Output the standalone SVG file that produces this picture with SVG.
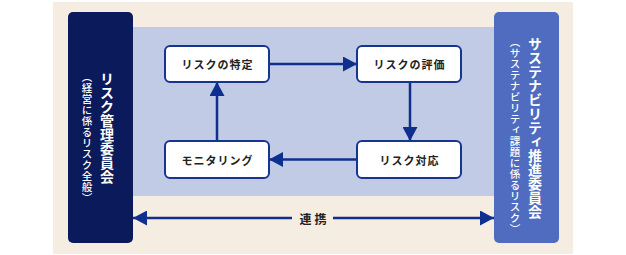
<svg xmlns="http://www.w3.org/2000/svg" width="626" height="255" viewBox="0 0 626 255">
<style>
.node rect{fill:#ffffff;stroke:#16358f;stroke-width:2}
.node text{font-family:"Noto Sans CJK JP","Noto Sans",sans-serif;font-weight:700;font-size:11px;fill:#222;text-anchor:middle;dominant-baseline:central;letter-spacing:1px}
.conn line{stroke:#0f2f8e;stroke-width:2.5}
.vt{font-family:"Noto Sans CJK JP","Noto Sans",sans-serif;fill:#ffffff;writing-mode:vertical-rl;text-orientation:mixed}
.big{font-size:14px;font-weight:700}
.small{font-size:10.5px;font-weight:500;letter-spacing:0.5px}
.lbl{font-family:"Noto Sans CJK JP","Noto Sans",sans-serif;font-weight:700;font-size:12px;fill:#222;text-anchor:middle;dominant-baseline:central;letter-spacing:3px}
</style>
<defs>
<marker id="ah" markerUnits="userSpaceOnUse" markerWidth="14" markerHeight="15" refX="14" refY="7.5" orient="auto">
<path d="M0,0 L14,7.5 L0,15 Z" fill="#0f2f8e"/>
</marker>
</defs>
<rect x="53" y="2" width="520" height="252" fill="#f5ede2"/>
<rect x="133" y="27" width="361" height="169" fill="#c2cbe5"/>
<g id="left-committee">
<rect x="68" y="12" width="65" height="231" rx="5" fill="#0b1a5b"/>
<text class="vt big" x="107" y="72">リスク管理委員会</text>
<text class="vt small" x="87" y="72">（経営に係るリスク全般）</text>
</g>
<g id="right-committee">
<rect x="494" y="12" width="65" height="231" rx="5" fill="#506cc0"/>
<text class="vt big" x="535" y="37">サステナビリティ推進委員会</text>
<text class="vt small" x="515" y="37">（サステナビリティ課題に係るリスク）</text>
</g>
<g class="conn" id="connectors">
<line x1="269" y1="64" x2="357" y2="64" marker-end="url(#ah)"/>
<line x1="410" y1="82" x2="410" y2="141" marker-end="url(#ah)"/>
<line x1="357" y1="159.5" x2="269" y2="159.5" marker-end="url(#ah)"/>
<line x1="217" y1="141" x2="217" y2="82" marker-end="url(#ah)"/>
<line x1="292" y1="218" x2="133" y2="218" marker-end="url(#ah)"/>
<line x1="333" y1="218" x2="494" y2="218" marker-end="url(#ah)"/>
<text class="lbl" x="314.5" y="218">連携</text>
</g>
<g class="node" id="identify">
<rect x="165" y="46" width="104" height="36" rx="5"/>
<text x="217.5" y="64">リスクの特定</text>
</g>
<g class="node" id="evaluate">
<rect x="357" y="46" width="104" height="36" rx="5"/>
<text x="409.5" y="64">リスクの評価</text>
</g>
<g class="node" id="respond">
<rect x="357" y="141" width="104" height="37" rx="5"/>
<text x="409.5" y="159.5">リスク対応</text>
</g>
<g class="node" id="monitor">
<rect x="165" y="141" width="104" height="37" rx="5"/>
<text x="217.5" y="159.5">モニタリング</text>
</g>
</svg>
